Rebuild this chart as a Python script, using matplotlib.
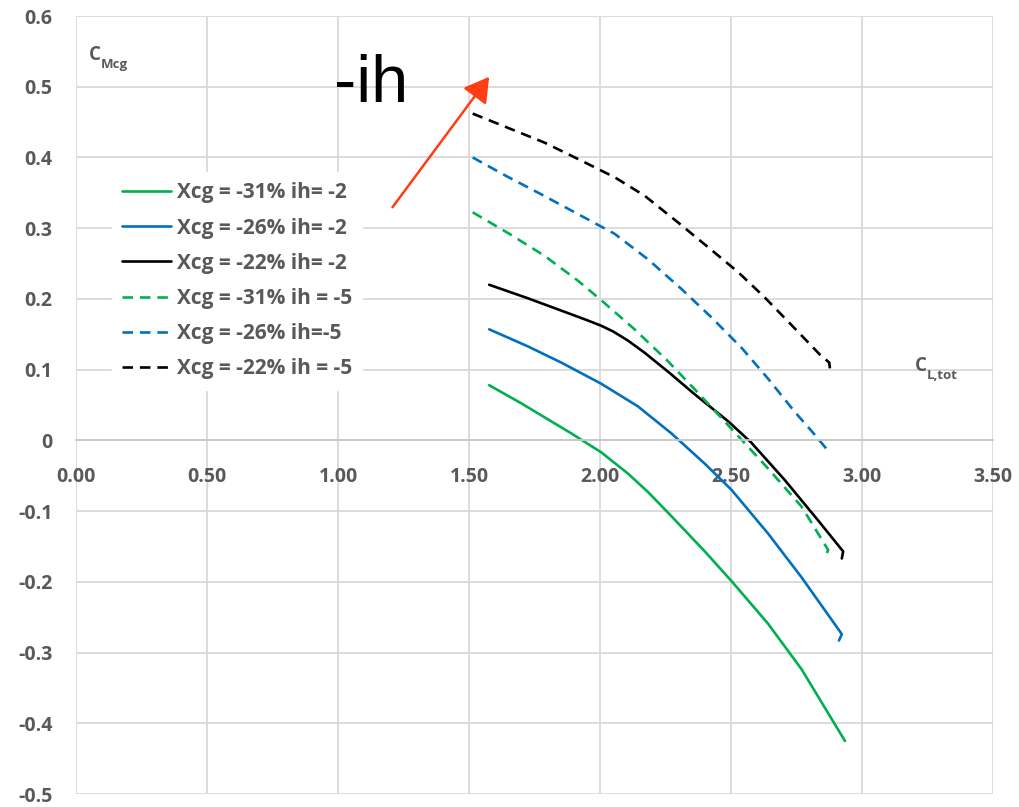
import matplotlib
matplotlib.use("Agg")
import matplotlib.pyplot as plt

# ---- data ----
x_g2 = [1.577, 1.699, 1.89, 2.005, 2.107, 2.183, 2.272, 2.40, 2.502, 2.641, 2.77, 2.935]
y_g2 = [0.078, 0.0525, 0.010, -0.017, -0.047, -0.073, -0.107, -0.157, -0.199, -0.259, -0.324, -0.425]

x_b2 = [1.577, 1.724, 1.852, 2.005, 2.145, 2.272, 2.40, 2.502, 2.642, 2.77, 2.923, 2.912]
y_b2 = [0.157, 0.133, 0.110, 0.080, 0.048, 0.010, -0.033, -0.070, -0.132, -0.194, -0.274, -0.283]

x_k2 = [1.577, 1.724, 1.852, 1.95, 2.005, 2.05, 2.107, 2.17, 2.26, 2.362, 2.489, 2.577, 2.705, 2.832, 2.928, 2.923]
y_k2 = [0.220, 0.201, 0.1835, 0.170, 0.162, 0.154, 0.141, 0.124, 0.097, 0.065, 0.027, -0.003, -0.056, -0.113, -0.157, -0.167]

x_g5 = [1.514, 1.654, 1.788, 1.915, 2.005, 2.132, 2.259, 2.362, 2.46, 2.55, 2.642, 2.77, 2.871, 2.865]
y_g5 = [0.3225, 0.292, 0.261, 0.226, 0.198, 0.157, 0.112, 0.072, 0.033, -0.003, -0.040, -0.094, -0.155, -0.160]

x_b5 = [1.514, 1.641, 1.775, 1.903, 2.056, 2.183, 2.311, 2.425, 2.540, 2.642, 2.744, 2.808, 2.878]
y_b5 = [0.400, 0.374, 0.348, 0.3225, 0.292, 0.256, 0.214, 0.174, 0.131, 0.087, 0.040, 0.013, -0.018]

x_k5 = [1.514, 1.648, 1.788, 1.915, 2.056, 2.170, 2.298, 2.413, 2.527, 2.629, 2.731, 2.840, 2.875, 2.878]
y_k5 = [0.462, 0.442, 0.421, 0.398, 0.372, 0.346, 0.308, 0.273, 0.238, 0.202, 0.163, 0.121, 0.110, 0.100]

labels = ["Xcg = -31% ih= -2", "Xcg = -26% ih= -2", "Xcg = -22% ih= -2",
          "Xcg = -31% ih = -5", "Xcg = -26% ih=-5", "Xcg = -22% ih = -5"]

x_ticks = [0.0, 0.5, 1.0, 1.5, 2.0, 2.5, 3.0, 3.5]
x_ticklabels = ["0.00", "0.50", "1.00", "1.50", "2.00", "2.50", "3.00", "3.50"]
y_ticks = [-0.5, -0.4, -0.3, -0.2, -0.1, 0.0, 0.1, 0.2, 0.3, 0.4, 0.5, 0.6]
y_ticklabels = ["-0.5", "-0.4", "-0.3", "-0.2", "-0.1", "0", "0.1", "0.2", "0.3", "0.4", "0.5", "0.6"]

GREEN = "#00B050"
BLUE = "#0070C0"
BLACK = "#000000"
GRAY_TXT = "#595959"
GRID = "#D9D9D9"
FONT = ['Open Sans', 'DejaVu Sans']

plt.rcParams['font.family'] = FONT

fig = plt.figure(figsize=(10.19, 8.07), dpi=100)
ax = fig.add_axes([76/1019, 1-794/807, (993-76)/1019, (794-16)/807])

lw_s = 1.9
lw_d = 1.9
dash = (4.0, 2.6)
ax.plot(x_g2, y_g2, color=GREEN, lw=lw_s, label=labels[0], solid_capstyle='round', solid_joinstyle='round')
ax.plot(x_b2, y_b2, color=BLUE, lw=lw_s, label=labels[1], solid_capstyle='round', solid_joinstyle='round')
ax.plot(x_k2, y_k2, color=BLACK, lw=lw_s, label=labels[2], solid_capstyle='round', solid_joinstyle='round')
ax.plot(x_g5, y_g5, color=GREEN, lw=lw_d, dashes=dash, label=labels[3])
ax.plot(x_b5, y_b5, color=BLUE, lw=lw_d, dashes=dash, label=labels[4])
ax.plot(x_k5, y_k5, color=BLACK, lw=lw_d, dashes=dash, label=labels[5])

ax.set_xlim(0, 3.5)
ax.set_ylim(-0.5, 0.6)
ax.set_xticks(x_ticks)
ax.set_xticklabels(x_ticklabels)
ax.set_yticks(y_ticks)
ax.set_yticklabels(y_ticklabels)
ax.grid(True, color=GRID, lw=1.3)
ax.set_axisbelow(True)
for s in ['top', 'right', 'left']:
    ax.spines[s].set_visible(False)
ax.spines['bottom'].set_position(('data', 0))
ax.spines['bottom'].set_color("#C8C8C8")
ax.spines['bottom'].set_linewidth(1.3)
ax.tick_params(axis='both', length=0, labelsize=14, labelcolor=GRAY_TXT)
ax.tick_params(axis='x', pad=19)
ax.tick_params(axis='y', pad=17)
for t in ax.get_xticklabels() + ax.get_yticklabels():
    t.set_fontweight('bold')

leg = ax.legend(loc='upper left', bbox_to_anchor=(112/1019, 1-172/807),
                bbox_transform=fig.transFigure, frameon=True, fancybox=False,
                framealpha=1, edgecolor='white', facecolor='white',
                prop={'family': FONT, 'weight': 'bold', 'size': 15},
                handlelength=2.35, handletextpad=0.25, labelspacing=0.68,
                borderpad=0.5, borderaxespad=0)
for t in leg.get_texts():
    t.set_color(GRAY_TXT)

# axis name labels
c1 = ax.text(0.05, 0.545, "C", fontsize=13.5, fontweight='bold', color=GRAY_TXT,
             ha='left', va='center')
ax.annotate("Mcg", xy=(1, 0.02), xycoords=c1, fontsize=9.5, fontweight='bold',
            color=GRAY_TXT, ha='left', va='center')
c2 = ax.text(3.20, 0.105, "C", fontsize=13.5, fontweight='bold', color=GRAY_TXT,
             ha='left', va='center')
ax.annotate("L,tot", xy=(1, 0.02), xycoords=c2, fontsize=9.5, fontweight='bold',
            color=GRAY_TXT, ha='left', va='center')

# -ih annotation with arrow
ax.text(0.983, 0.478, "-ih", fontsize=48, family='Liberation Sans', color='black',
        ha='left', va='baseline')
ax.annotate("", xy=(1.577, 0.514), xytext=(1.208, 0.3296),
            arrowprops=dict(arrowstyle='-|>,head_length=0.6,head_width=0.35',
                            color='#FF3D14', lw=1.8, mutation_scale=25,
                            shrinkA=0, shrinkB=0))

fig.savefig("out.png", dpi=100)
